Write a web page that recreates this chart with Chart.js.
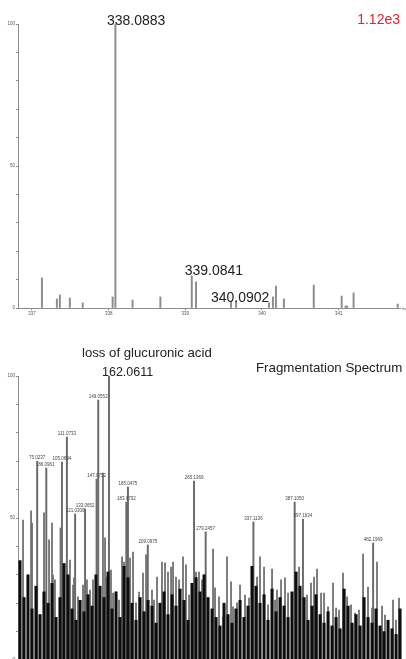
<!DOCTYPE html>
<html>
<head>
<meta charset="utf-8">
<script src="https://cdn.jsdelivr.net/npm/chart.js@4.4.0/dist/chart.umd.min.js"></script>
<style>
    html, body { margin: 0; padding: 0; background: #fff; width: 406px; height: 659px; overflow: hidden; }
    canvas { position: absolute; left: 0; }
    #ms1 { top: 0; }
    #ms2 { top: 330px; }
</style>
</head>
<body>
<canvas id="ms1" width="406" height="330"></canvas>
<canvas id="ms2" width="406" height="340"></canvas>
<script>
// Precursor scan (top) and its fragmentation spectrum (bottom).
const FONT = '"Liberation Sans", Arial, sans-serif';
const AXIS = '#8c8c8c';

// --- precursor scan, m/z 337-341 ---
const ms1Mz  = [337.130, 337.325, 337.364, 337.494, 337.662, 338.052, 338.0883, 338.312, 338.675,
                339.0841, 339.140, 339.597, 339.662, 340.0902, 340.143, 340.182, 340.286, 340.675,
                341.039, 341.090, 341.110, 341.195, 341.770];
const ms1Int = [10.6, 3.2, 4.6, 3.5, 1.8, 3.9, 100, 2.8, 3.9,
                11.3, 9.2, 2.5, 2.5, 1.8, 3.9, 7.7, 3.2, 8.1,
                4.2, 0.7, 0.7, 5.3, 1.4];
const ms1Ticks = [337, 338, 339, 340, 341];
const ms1Scale = '1.12e3';

// --- fragmentation spectrum ---
// annotated fragments
const peakMz  = [75.0237, 86.0961, 105.0694, 111.0733, 121.0306, 133.0652, 147.0752, 149.0552, 162.0611,
                 183.0702, 185.0475, 209.0975, 265.1369, 279.2457, 337.1136, 387.1050, 397.1634, 482.1969];
const peakInt = [70.0, 67.6, 69.7, 78.5, 51.4, 53.2, 63.7, 91.5, 100,
                 55.6, 60.9, 40.5, 63.0, 45.1, 48.6, 55.6, 49.6, 41.2];
const basePeak = 162.0611;

// unlabelled lines standing above the noise
const spikeMz  = [57.9, 67.6, 68.8, 83.3, 89.4, 93.0, 94.2, 96.6, 103.3, 114.8,
                  118.5, 119.7, 124.5, 130.6, 135.4, 139.1, 142.7, 151.2, 154.8, 157.3,
                  159.7, 164.5, 167.0, 170.6, 174.2, 177.9, 180.3, 187.6, 191.2, 194.8,
                  198.5, 203.3, 207.0, 214.2, 216.6, 220.3, 226.3, 230.0, 233.6, 237.3,
                  239.7, 243.3, 247.0, 251.8, 255.4, 259.1, 267.6, 271.2, 274.8, 288.2,
                  290.6, 295.4, 300.3, 305.1, 310.0, 312.4, 317.2, 320.9, 326.9, 331.8,
                  341.5, 345.1, 350.0, 354.8, 359.7, 363.3, 365.7, 370.6, 375.4, 379.1,
                  383.9, 392.4, 402.1, 406.9, 410.6, 414.2, 419.1, 422.7, 427.6, 433.6,
                  437.3, 440.9, 445.7, 450.6, 455.4, 460.3, 465.1, 470.0, 476.0, 480.9,
                  486.9, 493.0, 496.6, 500.3, 506.3, 509.9, 513.6];
const spikeInt = [49.3, 52.5, 48.2, 51.8, 42.3, 48.2, 29.9, 28.2, 46.5, 35.2,
                  26.4, 28.9, 22.2, 26.4, 28.2, 24.6, 28.2, 24.6, 65.8, 43.0,
                  29.2, 31.7, 23.6, 23.9, 21.1, 36.3, 34.5, 35.9, 38.0, 20.1,
                  23.9, 30.6, 37.0, 24.6, 21.1, 29.2, 34.5, 34.2, 31.0, 32.7,
                  34.5, 29.2, 28.2, 36.3, 33.5, 22.9, 31.0, 31.0, 28.2, 39.1,
                  25.4, 22.2, 15.1, 36.3, 27.5, 18.7, 20.1, 26.4, 22.9, 21.8,
                  29.2, 36.3, 32.7, 19.4, 32.0, 21.1, 24.6, 28.2, 28.9, 23.6,
                  19.4, 32.7, 22.9, 27.1, 29.2, 32.0, 23.6, 23.6, 18.7, 27.1,
                  18.3, 17.6, 30.6, 22.2, 19.4, 16.5, 17.6, 37.3, 25.7, 18.3,
                  34.5, 19.0, 15.8, 13.4, 21.1, 14.1, 21.8];

// dense noise floor
const floorMz  = [54.2, 59.1, 63.9, 68.8, 73.6, 78.5, 83.3, 88.2, 93.0, 97.9,
                  102.7, 107.6, 112.4, 117.3, 122.1, 127.0, 131.8, 136.6, 141.5, 146.3,
                  151.2, 156.0, 160.9, 165.7, 170.6, 175.4, 180.3, 185.1, 190.0, 194.8,
                  199.7, 204.5, 209.4, 214.2, 219.1, 223.9, 228.8, 233.6, 238.5, 243.3,
                  248.2, 253.0, 257.9, 262.7, 267.6, 272.4, 277.3, 282.1, 287.0, 291.8,
                  296.6, 301.5, 306.3, 311.2, 316.0, 320.9, 325.7, 330.6, 335.4, 340.3,
                  345.1, 350.0, 354.8, 359.7, 364.5, 369.4, 374.2, 379.1, 383.9, 388.8,
                  393.6, 398.5, 403.3, 408.2, 413.0, 417.9, 422.7, 427.6, 432.4, 437.3,
                  442.1, 447.0, 451.8, 456.7, 461.5, 466.4, 471.2, 476.0, 480.9, 485.7,
                  490.6, 495.4, 500.3, 505.1, 510.0, 514.8];
const floorInt = [35, 22, 30, 18, 26, 16, 24, 20, 27, 15,
                  22, 34, 30, 18, 14, 21, 17, 23, 19, 30,
                  26, 22, 31, 18, 24, 15, 33, 29, 20, 14,
                  22, 17, 21, 19, 13, 20, 24, 16, 23, 19,
                  25, 21, 14, 27, 29, 24, 30, 22, 18, 15,
                  12, 20, 16, 13, 18, 21, 15, 19, 33, 26,
                  20, 23, 14, 25, 17, 22, 19, 15, 24, 31,
                  26, 22, 14, 19, 23, 16, 13, 17, 12, 15,
                  11, 25, 19, 13, 16, 12, 22, 15, 13, 18,
                  12, 10, 14, 11, 9, 18];

const pts = (xs, ys) => xs.map((x, i) => ({ x, y: ys[i] }));

function yAxis() {
    return {
        min: 0, max: 100,
        afterFit: s => { s.width = 18; },
        border: { color: AXIS, width: 1 },
        grid: { drawOnChartArea: false, tickLength: 2, color: AXIS },
        ticks: {
            stepSize: 10, padding: 1, color: '#555',
            font: { size: 4.5, family: FONT },
            callback: v => (v % 50 === 0 ? v : ''),
        },
    };
}

function text(ctx, str, x, y, size, align, color) {
    ctx.save();
    ctx.font = `${size}px ${FONT}`;
    ctx.fillStyle = color || '#222';
    ctx.textAlign = align || 'left';
    ctx.textBaseline = 'alphabetic';
    ctx.fillText(str, x, y);
    ctx.restore();
}

const ms1Labels = {
    id: 'ms1Labels',
    afterDraw(chart) {
        const { ctx, scales: { x, y } } = chart;
        text(ctx, '338.0883', x.getPixelForValue(338.0883) - 8.5, y.getPixelForValue(100) + 1, 14);
        text(ctx, '339.0841', x.getPixelForValue(339.0841) - 7, y.getPixelForValue(11.3) - 1, 14);
        text(ctx, '340.0902', x.getPixelForValue(340.0902) + 0.5, y.getPixelForValue(1.8) - 1, 14, 'right');
        text(ctx, ms1Scale, chart.chartArea.right, 24, 14, 'right', '#e8202a');
        text(ctx, 'm/z', chart.chartArea.right + 2, chart.chartArea.bottom + 2, 4, 'left', '#555');
    },
};

new Chart(document.getElementById('ms1'), {
    type: 'bar',
    data: {
        datasets: [{
            data: pts(ms1Mz, ms1Int),
            backgroundColor: '#8c8c8c',
            barThickness: 1.3,
            grouped: false,
        }],
    },
    options: {
        responsive: false, animation: false,
        layout: { padding: { top: 24, right: 6, left: 0, bottom: 0 } },
        plugins: { legend: { display: false }, tooltip: { enabled: false } },
        scales: {
            x: {
                type: 'linear', min: 336.818, max: 341.8, offset: false,
                afterFit: s => { s.height = 22; },
                afterBuildTicks: s => { s.ticks = ms1Ticks.map(v => ({ value: v })); },
                border: { color: AXIS, width: 1 },
                grid: { drawOnChartArea: false, tickLength: 2, color: AXIS, offset: false },
                ticks: { padding: 1, color: '#555', maxRotation: 0, font: { size: 4.5, family: FONT } },
            },
            y: yAxis(),
        },
    },
    plugins: [ms1Labels],
});

const ms2Labels = {
    id: 'ms2Labels',
    afterDraw(chart) {
        const { ctx, scales: { x, y } } = chart;
        peakMz.forEach((mz, i) => {
            if (mz === basePeak) return;
            text(ctx, mz.toFixed(4), x.getPixelForValue(mz), y.getPixelForValue(peakInt[i]) - 2, 4.5, 'center', '#444');
        });
        const bx = x.getPixelForValue(basePeak);
        text(ctx, 'loss of glucuronic acid', bx - 27, 26.5, 13.2);
        text(ctx, basePeak.toFixed(4), bx - 7, 46, 12.5);
        text(ctx, 'Fragmentation Spectrum', 256, 42, 13.3);
    },
};

new Chart(document.getElementById('ms2'), {
    type: 'bar',
    data: {
        datasets: [
            { data: pts(floorMz, floorInt), backgroundColor: '#0d0d0d', barThickness: 2.4, grouped: false },
            { data: pts(spikeMz, spikeInt), backgroundColor: '#6e6e6e', barThickness: 1.1, grouped: false },
            { data: pts(peakMz, peakInt), backgroundColor: '#6a6a6a', barThickness: 1.3, grouped: false },
        ],
    },
    options: {
        responsive: false, animation: false,
        layout: { padding: { top: 46, right: 4, left: 0, bottom: 10 } },
        plugins: { legend: { display: false }, tooltip: { enabled: false } },
        scales: {
            x: { type: 'linear', min: 51.8, max: 517.2, offset: false, display: false },
            y: yAxis(),
        },
    },
    plugins: [ms2Labels],
});
</script>
</body>
</html>
